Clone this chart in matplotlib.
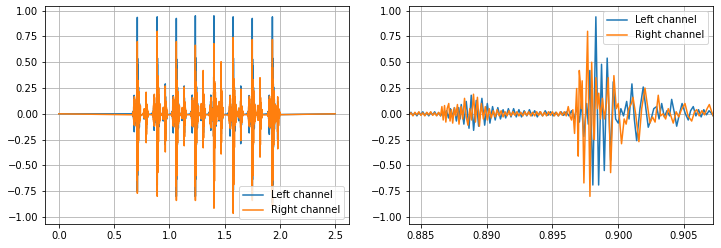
import numpy as np
import matplotlib
matplotlib.use("Agg")
from matplotlib import pyplot as plt

zoom_t_left = [0.88410, 0.88425, 0.88440, 0.88455, 0.88470, 0.88485, 0.88500, 0.88515, 0.88530, 0.88545,
               0.88560, 0.88575, 0.88590, 0.88605, 0.88620, 0.88635, 0.88650, 0.88665, 0.88680, 0.88695,
               0.88710, 0.88725, 0.88740, 0.88755, 0.88770, 0.88788, 0.88798, 0.88807, 0.88827, 0.88845,
               0.88866, 0.88883, 0.88901, 0.88921, 0.88939, 0.88964, 0.88985, 0.89005, 0.89025, 0.89045,
               0.89065, 0.89085, 0.89105, 0.89125, 0.89145, 0.89165, 0.89185, 0.89205, 0.89225, 0.89245,
               0.89265, 0.89285, 0.89305, 0.89325, 0.89345, 0.89365, 0.89385, 0.89405, 0.89425, 0.89445,
               0.89465, 0.89485, 0.89505, 0.89525, 0.89545, 0.89565, 0.89585, 0.89605, 0.89625, 0.89645,
               0.89665, 0.89685, 0.89705, 0.89720, 0.89738, 0.89760, 0.89772, 0.89784, 0.89807, 0.89830,
               0.89851, 0.89873, 0.89894, 0.89916, 0.89942, 0.89962, 0.89980, 0.90000, 0.90020, 0.90040,
               0.90064, 0.90082, 0.90104, 0.90122, 0.90140, 0.90165, 0.90190, 0.90210, 0.90228, 0.90250,
               0.90270, 0.90292, 0.90310, 0.90330, 0.90350, 0.90370, 0.90390, 0.90406, 0.90425, 0.90444,
               0.90465, 0.90485, 0.90510, 0.90532, 0.90550, 0.90570, 0.90590, 0.90610, 0.90630, 0.90650,
               0.90670, 0.90690, 0.90705, 0.90722]
zoom_v_left = [0.00, 0.015, -0.015, 0.010, -0.020, 0.015, -0.010, 0.020, -0.015, 0.010,
               -0.020, 0.015, -0.010, 0.020, -0.015, 0.010, -0.020, 0.015, -0.010, 0.030,
               -0.040, 0.050, -0.030, 0.060, -0.070, 0.060, -0.050, 0.090, -0.100, 0.120,
               -0.140, 0.180, -0.160, 0.130, -0.120, 0.150, -0.110, 0.100, -0.090, 0.070,
               -0.060, 0.060, -0.050, 0.040, -0.040, 0.050, -0.030, 0.050, -0.030, 0.040,
               -0.030, 0.030, -0.020, 0.040, -0.020, 0.030, -0.030, 0.020, -0.020, 0.030,
               -0.015, 0.020, -0.020, 0.015, -0.020, 0.020, -0.015, 0.020, -0.020, 0.030,
               -0.050, 0.060, -0.080, 0.120, -0.220, 0.100, -0.100, 0.420, -0.690, 0.940,
               -0.690, 0.480, -0.550, 0.540, -0.450, 0.310, -0.050, -0.090, 0.050, -0.020,
               0.120, -0.050, 0.290, -0.050, -0.260, 0.050, 0.260, 0.050, -0.130, -0.050,
               0.050, 0.070, -0.050, 0.100, -0.030, 0.030, -0.020, 0.140, 0.020, -0.120,
               0.000, 0.100, 0.000, -0.060, 0.030, 0.070, -0.020, 0.040, -0.030, 0.040,
               -0.010, 0.030, 0.010, -0.020]

zoom_t_right = [0.88410, 0.88425, 0.88440, 0.88455, 0.88470, 0.88485, 0.88500, 0.88515, 0.88530, 0.88545,
                0.88560, 0.88575, 0.88590, 0.88605, 0.88620, 0.88635, 0.88650, 0.88660, 0.88670, 0.88680,
                0.88690, 0.88700, 0.88712, 0.88722, 0.88732, 0.88742, 0.88755, 0.88765, 0.88778, 0.88790,
                0.88805, 0.88818, 0.88832, 0.88845, 0.88858, 0.88872, 0.88885, 0.88900, 0.88915, 0.88930,
                0.88945, 0.88960, 0.88975, 0.88990, 0.89005, 0.89020, 0.89035, 0.89050, 0.89065, 0.89080,
                0.89095, 0.89110, 0.89125, 0.89140, 0.89155, 0.89170, 0.89185, 0.89200, 0.89215, 0.89230,
                0.89245, 0.89260, 0.89275, 0.89290, 0.89305, 0.89320, 0.89335, 0.89350, 0.89365, 0.89380,
                0.89395, 0.89410, 0.89425, 0.89440, 0.89455, 0.89470, 0.89485, 0.89500, 0.89515, 0.89530,
                0.89545, 0.89560, 0.89575, 0.89590, 0.89605, 0.89620, 0.89635, 0.89645, 0.89655, 0.89668,
                0.89684, 0.89690, 0.89696, 0.89704, 0.89712, 0.89718, 0.89726, 0.89739, 0.89767, 0.89785,
                0.89798, 0.89810, 0.89818, 0.89830, 0.89842, 0.89852, 0.89865, 0.89880, 0.89895, 0.89910,
                0.89924, 0.89942, 0.89967, 0.89985, 0.90000, 0.90025, 0.90045, 0.90060, 0.90080, 0.90100,
                0.90112, 0.90132, 0.90157, 0.90178, 0.90203, 0.90225, 0.90241, 0.90260, 0.90280, 0.90304,
                0.90322, 0.90340, 0.90360, 0.90380, 0.90400, 0.90418, 0.90440, 0.90460, 0.90480, 0.90507,
                0.90530, 0.90558, 0.90580, 0.90596, 0.90615, 0.90635, 0.90655, 0.90675, 0.90692, 0.90710,
                0.90722]
zoom_v_right = [-0.010, 0.010, -0.020, 0.015, -0.010, 0.020, -0.015, 0.010, -0.020, 0.015,
                -0.010, 0.020, -0.015, 0.010, -0.020, 0.015, -0.020, 0.070, -0.060, 0.080,
                -0.080, 0.050, 0.100, -0.070, 0.040, -0.090, 0.060, -0.020, 0.090, -0.100,
                0.070, -0.050, 0.150, -0.030, -0.110, 0.050, -0.060, 0.190, -0.080, 0.160,
                -0.120, 0.100, -0.050, 0.070, -0.060, 0.050, -0.040, 0.030, -0.030, 0.040,
                -0.020, 0.030, -0.030, 0.020, -0.020, 0.030, -0.020, 0.020, -0.015, 0.020,
                -0.020, 0.015, -0.020, 0.020, -0.015, 0.020, -0.020, 0.015, -0.020, 0.020,
                -0.015, 0.020, -0.020, 0.015, -0.020, 0.020, -0.015, 0.020, -0.020, 0.015,
                -0.020, 0.020, -0.015, 0.020, -0.020, 0.070, -0.030, -0.060, 0.040, -0.190,
                0.245, -0.030, -0.410, 0.420, 0.300, 0.050, 0.320, -0.670, 0.800, -0.800,
                0.500, -0.100, -0.250, 0.350, 0.050, 0.200, -0.050, 0.150, -0.050, 0.100,
                0.350, -0.570, 0.370, 0.050, 0.100, -0.290, -0.050, -0.100, 0.050, 0.100,
                0.160, 0.000, -0.270, 0.050, 0.250, 0.050, -0.090, -0.030, -0.080, 0.180,
                -0.020, 0.000, -0.050, 0.050, -0.020, -0.090, 0.020, -0.030, 0.040, 0.100,
                -0.020, -0.070, 0.020, 0.040, -0.020, 0.030, -0.010, 0.050, 0.090, 0.020,
                -0.020]

# whole recording: click times and peak levels
duration = 2.5
click_t = [0.710, 0.890, 1.063, 1.235, 1.403, 1.577, 1.750, 1.932]
click_max_left = [0.935, 0.94, 0.925, 0.95, 0.95, 0.94, 0.925, 0.94]
click_min_left = [-0.75, -0.69, -0.80, -0.80, -0.69, -0.93, -0.80, -0.86]
click_max_right = [0.70, 0.80, 0.70, 0.665, 0.68, 0.74, 0.72, 0.72]
click_min_right = [-0.77, -0.80, -0.84, -0.84, -0.915, -0.965, -0.84, -0.90]

echo_t = [0.790, 0.963, 1.134, 1.306, 1.468, 1.646, 1.820, 1.980]
echo_max_left = [0.15, 0.29, 0.27, 0.30, 0.35, 0.27, 0.30, 0.12]
echo_min_left = [-0.22, -0.30, -0.28, -0.28, -0.30, -0.29, -0.19, -0.25]
echo_max_right = [0.21, 0.27, 0.26, 0.42, 0.505, 0.24, 0.35, 0.165]
echo_min_right = [-0.28, -0.37, -0.31, -0.33, -0.39, -0.26, -0.42, -0.34]


def place(snip_t, snip_v, t0, vmax, vmin, stretch):
    # put the measured click shape at t0, scaled to the levels read for that click
    st = np.asarray(snip_t)
    sv = np.asarray(snip_v)
    peak = st[np.argmax(sv)]
    v = np.where(sv > 0, sv * vmax / sv.max(), sv * vmin / sv.min())
    return t0 + (st - peak) * stretch, v


def build(snip_t, snip_v, cmax, cmin, emax, emin):
    ts, vs = [[0.0]], [[0.0]]
    for k in range(len(click_t)):
        t, v = place(snip_t, snip_v, click_t[k], cmax[k], cmin[k], 3)
        ts.append(t)
        vs.append(v)
        t, v = place(snip_t, snip_v, echo_t[k], emax[k], emin[k], 2)
        ts.append(t)
        vs.append(v)
    ts.append([duration])
    vs.append([0.0])
    return np.concatenate(ts), np.concatenate(vs)


t_left, v_left = build(zoom_t_left, zoom_v_left, click_max_left, click_min_left,
                       echo_max_left, echo_min_left)
t_right, v_right = build(zoom_t_right, zoom_v_right, click_max_right, click_min_right,
                         echo_max_right, echo_min_right)

fig = plt.figure(figsize=(721 / 72, 248 / 72), dpi=72)
ax1 = fig.add_axes([45 / 721, 24 / 248, 304 / 721, 218 / 248])
ax2 = fig.add_axes([409 / 721, 24 / 248, 304 / 721, 218 / 248])

ax1.plot(t_left, v_left, label="Left channel")
ax1.plot(t_right, v_right, label="Right channel")
ax1.set_xticks(np.arange(0, 2.51, 0.5))
ax1.legend(loc="lower right")

ax2.plot(zoom_t_left, zoom_v_left, label="Left channel")
ax2.plot(zoom_t_right, zoom_v_right, label="Right channel")
ax2.set_xlim(0.8841, 0.9072)
ax2.set_xticks([0.885, 0.890, 0.895, 0.900, 0.905])
ax2.legend(loc="upper right")

for ax in (ax1, ax2):
    ax.set_ylim(-1.068, 1.045)
    ax.set_yticks(np.arange(-1, 1.01, 0.25))
    ax.grid(True)

fig.savefig("out.png", dpi=72)
